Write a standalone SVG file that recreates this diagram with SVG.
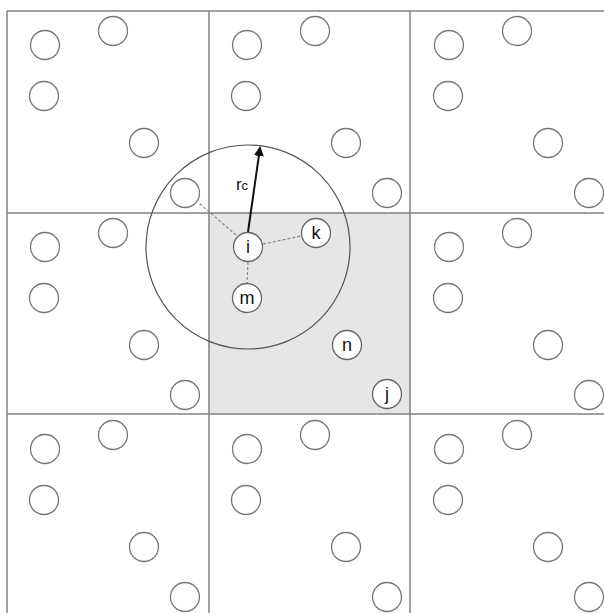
<svg xmlns="http://www.w3.org/2000/svg" width="604" height="613" viewBox="0 0 604 613">
<defs>
<style>
.p{fill:none;stroke:#777;stroke-width:1.3}
.pw{fill:#fff;stroke:#666;stroke-width:1.3}
.grid{stroke:#808080;stroke-width:1.5;fill:none}
.lbl{font-family:"Liberation Sans",Arial,sans-serif;font-size:18px;fill:#111;text-anchor:middle}
.dash{stroke:#888;stroke-width:1.2;stroke-dasharray:3,2;fill:none}
</style>
<marker id="ah" viewBox="0 0 10 10" refX="8" refY="5" markerWidth="5" markerHeight="5" orient="auto">
<path d="M0,0 L10,5 L0,10 z" fill="#111"/>
</marker>
<g id="cellpat">
<circle class="p" cx="38" cy="34" r="14.5"/>
<circle class="p" cx="106" cy="20" r="14.5"/>
<circle class="p" cx="37" cy="85" r="14.5"/>
<circle class="p" cx="137" cy="132" r="14.5"/>
<circle class="p" cx="178" cy="182" r="14.5"/>
</g>
</defs>
<rect width="604" height="613" fill="#fff"/>
<rect x="209" y="213" width="201" height="201" fill="#e6e6e6"/>
<g id="grid">
<line class="grid" x1="7" y1="11" x2="604" y2="11"/>
<line class="grid" x1="7" y1="213" x2="604" y2="213"/>
<line class="grid" x1="7" y1="414" x2="604" y2="414"/>
<line class="grid" x1="7" y1="11" x2="7" y2="613"/>
<line class="grid" x1="209" y1="11" x2="209" y2="613"/>
<line class="grid" x1="410" y1="11" x2="410" y2="613"/>
</g>
<g id="particles">
<use href="#cellpat" x="7" y="11"/>
<use href="#cellpat" x="209" y="11"/>
<use href="#cellpat" x="411" y="11"/>
<use href="#cellpat" x="7" y="213"/>
<use href="#cellpat" x="411" y="213"/>
<use href="#cellpat" x="7" y="415"/>
<use href="#cellpat" x="209" y="415"/>
<use href="#cellpat" x="411" y="415"/>
</g>
<g id="cutoff">
<circle cx="248" cy="247" r="102" fill="none" stroke="#555" stroke-width="1.2"/>
</g>
<g id="connectors">
<line class="dash" x1="263" y1="244" x2="301" y2="236"/>
<line class="dash" x1="236" y1="235" x2="199" y2="203"/>
<line class="dash" x1="248" y1="262" x2="247" y2="283"/>
<line x1="248" y1="232" x2="260" y2="148" stroke="#111" stroke-width="2" marker-end="url(#ah)"/>
<text x="242" y="190" class="lbl" style="font-size:17px">r<tspan style="font-size:13px">c</tspan></text>
</g>
<g id="node-i"><circle class="pw" cx="248" cy="247" r="14.5"/><text class="lbl" x="248" y="253">i</text></g>
<g id="node-k"><circle class="pw" cx="316" cy="233" r="14.5"/><text class="lbl" x="316" y="239">k</text></g>
<g id="node-m"><circle class="pw" cx="247" cy="298" r="14.5"/><text class="lbl" x="247" y="304">m</text></g>
<g id="node-n"><circle class="pw" cx="347" cy="345" r="14.5"/><text class="lbl" x="347" y="351">n</text></g>
<g id="node-j"><circle class="pw" cx="387" cy="394" r="14.5"/><text class="lbl" x="387" y="400">j</text></g>
</svg>
